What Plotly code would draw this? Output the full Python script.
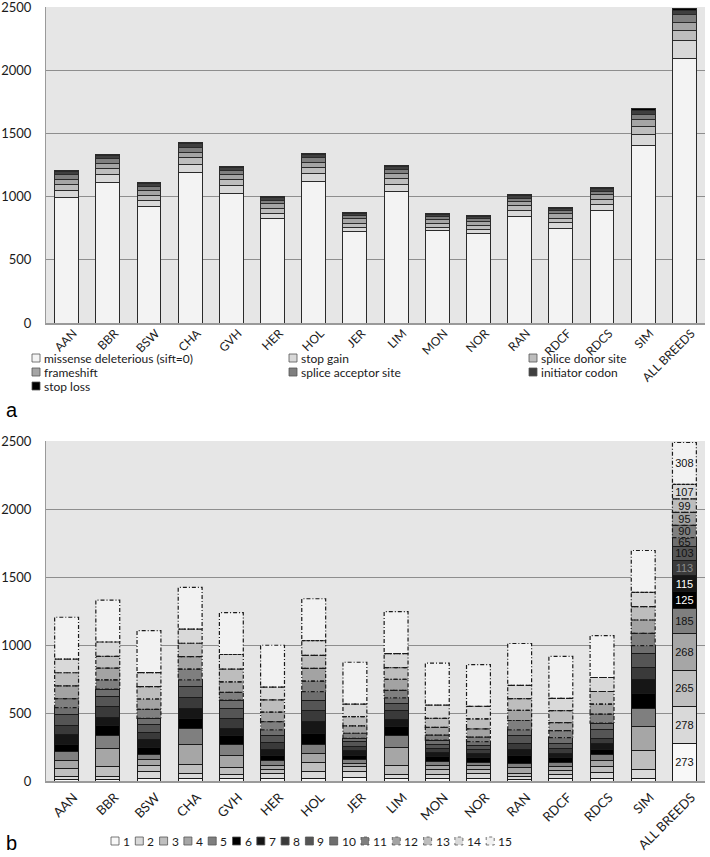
import plotly.graph_objects as go

W, H = 710, 857
FONT = "Lato, 'Open Sans', sans-serif"
TXT = "#1a1a1a"

breeds = ["AAN", "BBR", "BSW", "CHA", "GVH", "HER", "HOL", "JER", "LIM", "MON",
          "NOR", "RAN", "RDCF", "RDCS", "SIM", "ALL BREEDS"]

# ---------- panel a : variant classes ----------
missense = [995, 1113, 920, 1189, 1028, 830, 1121, 722, 1042, 728, 710, 841, 749, 894, 1408, 2094]
stop_gain = [57, 63, 51, 66, 61, 38, 60, 32, 55, 26, 28, 48, 45, 47, 85, 142]
splice_donor = [46, 46, 41, 51, 45, 39, 48, 37, 46, 34, 34, 37, 36, 39, 61, 76]
frameshift = [41, 42, 37, 46, 41, 35, 43, 33, 41, 31, 31, 34, 33, 35, 55, 69]
splice_acceptor = [34, 34, 30, 38, 33, 28, 35, 27, 34, 25, 25, 27, 27, 28, 44, 56]
initiator_codon = [24, 24, 22, 27, 24, 21, 25, 19, 24, 18, 18, 20, 19, 21, 32, 39]
stop_loss = [8, 8, 7, 9, 8, 6, 8, 6, 8, 6, 6, 6, 6, 6, 10, 13]

a_names = ["missense deleterious (sift=0)", "stop gain", "splice donor site",
           "frameshift", "splice acceptor site", "initiator codon", "stop loss"]
a_series = [missense, stop_gain, splice_donor, frameshift, splice_acceptor,
            initiator_codon, stop_loss]
a_colors = ["#f3f3f3", "#d8d8d8", "#bdbdbd", "#a5a5a5", "#7f7f7f", "#3f3f3f", "#000000"]

# ---------- panel b : number of breeds sharing the variant ----------
shared_1 = [11, 12, 22, 19, 17, 21, 19, 29, 16, 17, 21, 13, 16, 20, 18, 273]
shared_2 = [24, 20, 50, 39, 30, 32, 53, 42, 35, 32, 32, 22, 31, 45, 66, 278]
shared_3 = [58, 74, 41, 67, 54, 29, 63, 34, 66, 32, 29, 22, 30, 41, 140, 265]
shared_4 = [61, 135, 42, 145, 86, 32, 64, 25, 127, 32, 29, 42, 29, 44, 179, 268]
shared_5 = [61, 91, 42, 113, 78, 34, 71, 29, 93, 29, 25, 32, 29, 42, 132, 185]
shared_6 = [56, 76, 51, 74, 71, 42, 81, 32, 61, 37, 37, 56, 39, 37, 110, 125]
shared_7 = [69, 61, 54, 74, 49, 44, 83, 32, 56, 32, 27, 42, 29, 44, 101, 115]
shared_8 = [66, 78, 56, 86, 71, 51, 83, 34, 61, 29, 29, 49, 37, 42, 90, 113]
shared_9 = [80, 74, 61, 78, 78, 49, 74, 32, 54, 29, 32, 54, 37, 66, 98, 103]
shared_10 = [54, 54, 42, 49, 61, 42, 66, 25, 42, 32, 29, 44, 42, 44, 62, 65]
shared_11 = [66, 69, 66, 78, 56, 61, 78, 37, 56, 37, 32, 69, 51, 66, 90, 90]
shared_12 = [94, 86, 76, 93, 78, 69, 93, 54, 81, 56, 61, 74, 59, 74, 98, 95]
shared_13 = [96, 86, 91, 98, 93, 91, 96, 69, 86, 66, 74, 86, 88, 93, 98, 99]
shared_14 = [100, 106, 103, 103, 108, 93, 108, 91, 103, 98, 91, 98, 91, 103, 105, 107]
shared_15 = [308, 308, 308, 308, 308, 308, 308, 308, 308, 308, 308, 308, 308, 308, 308, 308]

b_names = [str(k) for k in range(1, 16)]
b_series = [shared_1, shared_2, shared_3, shared_4, shared_5, shared_6, shared_7,
            shared_8, shared_9, shared_10, shared_11, shared_12, shared_13,
            shared_14, shared_15]
b_colors = ["#f8f8f8", "#d9d9d9", "#bfbfbf", "#a6a6a6", "#7f7f7f", "#000000", "#161616",
            "#3a3a3a", "#555555", "#6e6e6e", "#7f7f7f", "#a3a3a3", "#bdbdbd", "#d9d9d9",
            "#f2f2f2"]
b_textcol = ["#111", "#111", "#111", "#111", "#111", "#ffffff", "#ffffff", "#8a8a8a",
             "#111", "#111", "#111", "#111", "#111", "#111", "#111"]

BARW = 0.58
DASH = "4px,2px,1px,2px"

fig = go.Figure()

for name, vals, col in zip(a_names, a_series, a_colors):
    fig.add_trace(go.Bar(x=breeds, y=vals, name=name, marker_color=col,
                         marker_line=dict(color="#2a2a2a", width=1),
                         xaxis="x", yaxis="y", showlegend=False))

for k, (name, vals, col) in enumerate(zip(b_names, b_series, b_colors)):
    dashed = k >= 10
    labels = ["" for _ in breeds[:-1]] + [str(vals[-1])]
    fig.add_trace(go.Bar(x=breeds, y=vals, name=name, marker_color=col,
                         marker_line=dict(color="#1a1a1a", width=0 if dashed else 1),
                         text=labels, textposition="inside", insidetextanchor="middle",
                         textangle=0, constraintext="none",
                         textfont=dict(family="Liberation Sans, Arial", size=11,
                                       color=b_textcol[k]),
                         xaxis="x2", yaxis="y2", showlegend=False))

shapes = []
# dash-dot outlines of classes 11-15 in panel b
for i in range(len(breeds)):
    base = sum(s[i] for s in b_series[:10])
    for s in b_series[10:]:
        shapes.append(dict(type="rect", xref="x2", yref="y2",
                           x0=i - BARW / 2, x1=i + BARW / 2, y0=base, y1=base + s[i],
                           line=dict(color="#1a1a1a", width=1.2, dash=DASH),
                           fillcolor="rgba(0,0,0,0)", layer="above"))
        base += s[i]

def px(x):
    return x / W

def py(y):
    return 1 - y / H

annotations = []
LEGFONT = 12
# legend panel a (3 columns)
a_cols = [32, 289, 529]
a_rows = [358, 372, 386]
for j, (name, col) in enumerate(zip(a_names, a_colors)):
    cx, cy = a_cols[j % 3], a_rows[j // 3]
    shapes.append(dict(type="rect", xref="paper", yref="paper",
                       x0=px(cx), x1=px(cx + 8), y0=py(cy + 4), y1=py(cy - 4),
                       fillcolor=col, line=dict(color="#555", width=0.8)))
    annotations.append(dict(x=px(cx + 10), y=py(cy), xref="paper", yref="paper",
                            text=name, showarrow=False, xanchor="left", yanchor="middle",
                            font=dict(family=FONT, size=LEGFONT, color=TXT)))

# legend panel b (one row)
bx, by = 111, 841
for k, (name, col) in enumerate(zip(b_names, b_colors)):
    dashed = k >= 10
    shapes.append(dict(type="rect", xref="paper", yref="paper",
                       x0=px(bx), x1=px(bx + 8), y0=py(by + 4), y1=py(by - 4),
                       fillcolor=col,
                       line=dict(color="#555", width=0.8, dash="dot" if dashed else "solid")))
    annotations.append(dict(x=px(bx + 10), y=py(by), xref="paper", yref="paper",
                            text=name, showarrow=False, xanchor="left", yanchor="middle",
                            font=dict(family=FONT, size=LEGFONT, color=TXT)))
    bx += 24.3 if len(name) == 1 else 31.3

for lab, yy in (("a", 410), ("b", 843)):
    annotations.append(dict(x=px(4), y=py(yy), xref="paper", yref="paper", text=lab,
                            showarrow=False, xanchor="left", yanchor="middle",
                            font=dict(family="Liberation Sans, Arial", size=20,
                                      color="#000")))

xcommon = dict(type="category", domain=[46 / W, 705 / W], tickangle=-45,
               showgrid=False, showline=True, linecolor="#9a9a9a", linewidth=1.5,
               ticks="", ticklabelshift=7, automargin=False, fixedrange=True)
ycommon = dict(range=[0, 2500], dtick=500, showgrid=True, gridcolor="#8e8e8e",
               gridwidth=1, showline=True, linecolor="#9a9a9a", linewidth=1,
               zeroline=False, ticks="", ticklabelstandoff=11, automargin=False,
               ticklabeloverflow="allow",
               tickfont=dict(family=FONT, size=13, color=TXT), fixedrange=True)

fig.update_layout(
    width=W, height=H, margin=dict(l=0, r=0, t=0, b=0),
    paper_bgcolor="white", plot_bgcolor="#e6e6e6",
    barmode="stack", bargap=0.42,
    xaxis=dict(xcommon, anchor="y", ticklabelstandoff=-3,
               tickfont=dict(family=FONT, size=12, color=TXT)),
    yaxis=dict(ycommon, anchor="x", domain=[(H - 323) / H, (H - 7) / H]),
    xaxis2=dict(xcommon, anchor="y2", ticklabelstandoff=2,
                tickfont=dict(family=FONT, size=13, color=TXT)),
    yaxis2=dict(ycommon, anchor="x2", domain=[(H - 781) / H, (H - 441) / H]),
    shapes=shapes, annotations=annotations, showlegend=False,
    font=dict(family=FONT, color=TXT),
)

fig.write_html("out.html", config={"displayModeBar": False},
               post_script="document.body.style.margin='0';document.body.style.overflow='hidden';")
